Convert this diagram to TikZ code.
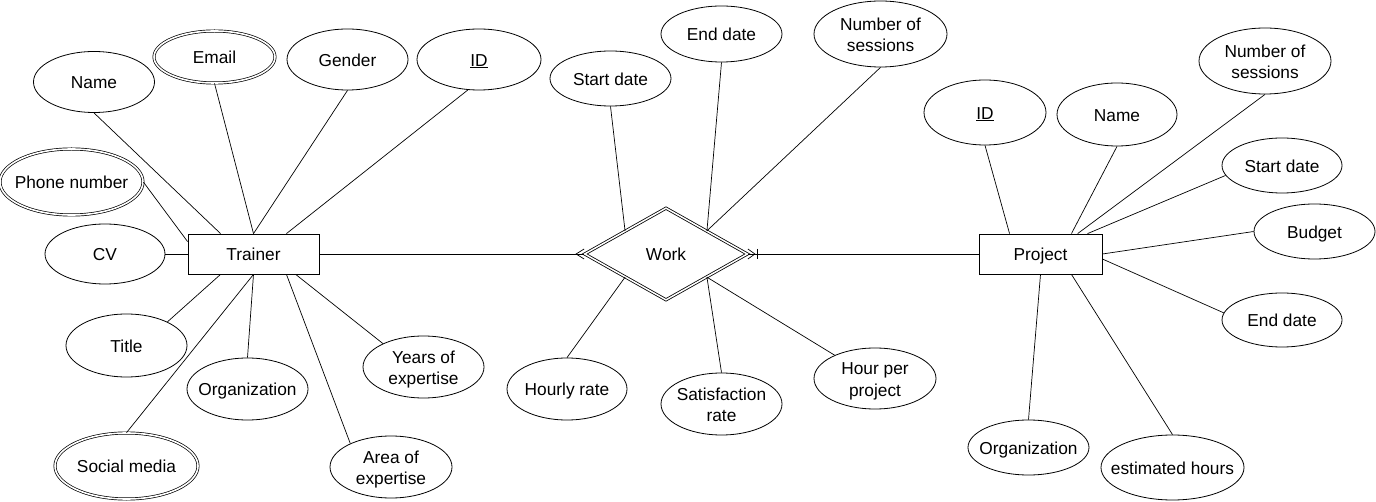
\documentclass[tikz,border=0pt]{standalone}
\usepackage{fontspec}
\setmainfont{Liberation Sans}
\usetikzlibrary{shapes.geometric,calc}
\begin{document}
\begin{tikzpicture}[x=1pt,y=-1pt,
  every node/.style={font=\fontsize{17.3}{21.5}\selectfont,text height=13.6pt,text depth=0pt},
  two/.style={text height=35.1pt,text depth=0pt},
  attr/.style 2 args={ellipse,draw,line width=0.8pt,minimum width=#1,minimum height=#2,inner xsep=-30pt,inner ysep=-12pt,align=center},
  multi/.style={double,double distance=1.6pt,line width=0.7pt},
  entity/.style={draw,rectangle,line width=0.8pt,minimum height=40pt,inner sep=0pt},
  link/.style={line width=0.7pt}
]
\useasboundingbox (0,0) rectangle (1376,502);

% entities and relationship
\node[entity,minimum width=131pt] (trainer) at (253.5,254) {Trainer};
\node[entity,minimum width=123pt] (project) at (1040.5,254) {Project};
\node[diamond,draw,double,double distance=1.5pt,line width=0.8pt,minimum width=163pt,minimum height=92pt,inner sep=0pt] (work) at (666,254) {Work};

% Trainer attributes
\node[attr={121pt}{61pt}] (name) at (94,82) {Name};
\node[attr={121pt}{52pt},multi] (email) at (214.5,57) {Email};
\node[attr={121pt}{61pt}] (gender) at (347.5,59.5) {Gender};
\node[attr={124pt}{61pt}] (id) at (479,59.5) {\underline{ID}};
\node[attr={143pt}{66pt},multi] (phone) at (71.5,182) {Phone number};
\node[attr={120pt}{60pt}] (cv) at (105,254) {CV};
\node[attr={121pt}{63pt}] (title) at (126.5,345.5) {Title};
\node[attr={121pt}{62pt}] (org) at (247.5,389) {Organization};
\node[attr={143pt}{66pt},multi] (social) at (126.5,466) {Social media};
\node[attr={122pt}{62pt},two] (area) at (391,467) {Area of\\expertise};
\node[attr={121pt}{62pt},two] (years) at (423.5,367) {Years of\\expertise};

% Work attributes
\node[attr={121pt}{55pt}] (start) at (610.5,78.5) {Start date};
\node[attr={121pt}{56pt}] (end) at (721.5,34) {End date};
\node[attr={133pt}{66pt},two] (nsess) at (880.5,34) {Number of\\sessions};
\node[attr={120pt}{62pt}] (hourly) at (567,389) {Hourly rate};
\node[attr={121pt}{62pt},two] (satisf) at (721.5,404) {Satisfaction\\rate};
\node[attr={122pt}{61pt},two] (hpp) at (875,378.5) {Hour per\\project};

% Project attributes
\node[attr={122pt}{65pt}] (pid) at (985,112.5) {\underline{ID}};
\node[attr={120pt}{63pt}] (pname) at (1117,114.5) {Name};
\node[attr={132pt}{66pt},two] (pnsess) at (1265,61) {Number of\\sessions};
\node[attr={120pt}{55pt}] (pstart) at (1282,165.5) {Start date};
\node[attr={121pt}{55pt}] (budget) at (1314.5,231.5) {Budget};
\node[attr={120pt}{54pt}] (pend) at (1282,320) {End date};
\node[attr={121pt}{55pt}] (porg) at (1028.5,447.5) {Organization};
\node[attr={143pt}{65pt}] (esth) at (1172.5,467.5) {estimated hours};

% Trainer connectors
\draw[link] (name.south) -- ($(trainer.north west)!0.25!(trainer.north east)$);
\draw[link] (email.south) -- (trainer.north);
\draw[link] (gender.south) -- (trainer.north);
\draw[link] (id.250) -- ($(trainer.north west)!0.75!(trainer.north east)$);
\draw[link] (phone.east) -- ($(trainer.north west)+(0,8)$);
\draw[link] (cv.east) -- (trainer.west);
\draw[link] (title.30) -- ($(trainer.south west)!0.25!(trainer.south east)$);
\draw[link] (social.north) -- (trainer.south);
\draw[link] (org.north) -- (trainer.south);
\draw[link] (area.150) -- ($(trainer.south west)!0.75!(trainer.south east)$);
\draw[link] (years.150) -- ($(trainer.south west)!0.82!(trainer.south east)$);

% Work connectors
\draw[link] (start.south) -- ($(work.west)!0.5!(work.north)$);
\draw[link] (end.south) -- ($(work.east)!0.5!(work.north)$);
\draw[link] (nsess.south) -- ($(work.east)!0.5!(work.north)$);
\draw[link] (hourly.north) -- ($(work.west)!0.5!(work.south)$);
\draw[link] (satisf.north) -- ($(work.east)!0.5!(work.south)$);
\draw[link] (hpp.150) -- ($(work.east)!0.5!(work.south)$);

% Project connectors
\draw[link] (pid.south) -- ($(project.north west)!0.25!(project.north east)$);
\draw[link] (pname.south) -- ($(project.north west)!0.75!(project.north east)$);
\draw[link] (pnsess.south) -- ($(project.north west)!0.8!(project.north east)$);
\draw[link] (pstart.190) -- ($(project.north west)!0.88!(project.north east)$);
\draw[link] (budget.west) -- (project.east);
\draw[link] (pend.173) -- ($(project.east)+(0,5)$);
\draw[link] (porg.north) -- (project.south);
\draw[link] (esth.north) -- ($(project.south west)!0.75!(project.south east)$);

% relationship lines with crow's feet
\draw[link] (trainer.east) -- (work.west);
\draw[link] ($(work.west)+(0,-5)$) -- ($(work.west)+(-8,0)$) -- ($(work.west)+(0,5)$);
\draw[link] (project.west) -- (work.east);
\draw[link] ($(work.east)+(0,-5)$) -- ($(work.east)+(7,0)$) -- ($(work.east)+(0,5)$);
\draw[link] ($(work.east)+(9,-5)$) -- ($(work.east)+(9,5)$);
\end{tikzpicture}
\end{document}
